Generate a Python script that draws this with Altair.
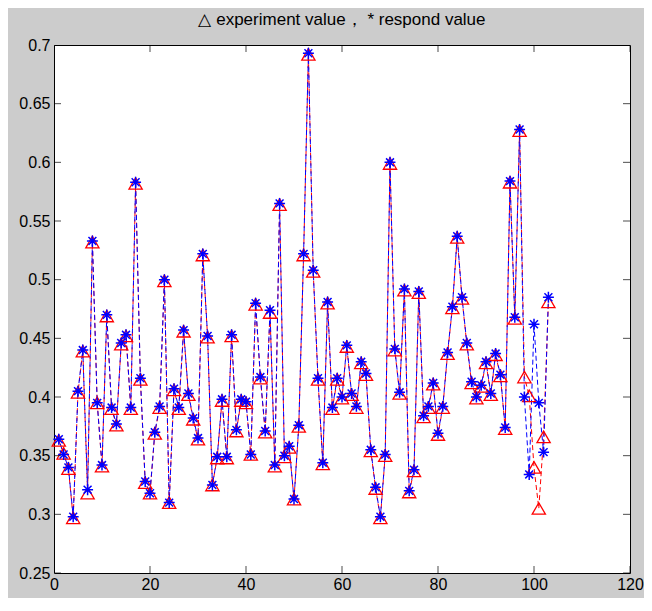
import altair as alt
import pandas as pd

FONT = "Liberation Sans Narrow, Arial Narrow, Liberation Sans, Arial"

idx = list(range(1, 104))
respond = [
    0.364, 0.351, 0.340, 0.298, 0.405, 0.440, 0.321, 0.533, 0.395, 0.342,
    0.470, 0.391, 0.377, 0.446, 0.453, 0.391, 0.583, 0.416, 0.328, 0.318,
    0.370, 0.392, 0.500, 0.310, 0.407, 0.391, 0.457, 0.403, 0.382, 0.365,
    0.522, 0.452, 0.325, 0.349, 0.398, 0.349, 0.453, 0.372, 0.398, 0.396,
    0.351, 0.480, 0.417, 0.371, 0.474, 0.342, 0.565, 0.350, 0.358, 0.313,
    0.376, 0.522, 0.693, 0.508, 0.416, 0.344, 0.481, 0.391, 0.416, 0.400,
    0.444, 0.403, 0.392, 0.430, 0.420, 0.355, 0.323, 0.298, 0.351, 0.600,
    0.441, 0.404, 0.492, 0.320, 0.338, 0.490, 0.384, 0.392, 0.412, 0.369,
    0.392, 0.438, 0.477, 0.537, 0.485, 0.446, 0.413, 0.400, 0.410, 0.430,
    0.403, 0.437, 0.419, 0.374, 0.584, 0.468, 0.628, 0.400, 0.334, 0.462,
    0.395, 0.353, 0.485,
]
experiment = [
    0.363, 0.352, 0.339, 0.297, 0.404, 0.439, 0.318, 0.532, 0.395, 0.341,
    0.469, 0.390, 0.376, 0.445, 0.452, 0.390, 0.582, 0.415, 0.327, 0.318,
    0.369, 0.391, 0.499, 0.310, 0.406, 0.390, 0.456, 0.402, 0.381, 0.364,
    0.521, 0.451, 0.325, 0.348, 0.397, 0.348, 0.452, 0.371, 0.397, 0.395,
    0.351, 0.479, 0.416, 0.370, 0.472, 0.341, 0.564, 0.349, 0.357, 0.313,
    0.375, 0.521, 0.692, 0.507, 0.415, 0.343, 0.480, 0.390, 0.415, 0.399,
    0.443, 0.402, 0.391, 0.429, 0.419, 0.354, 0.322, 0.297, 0.350, 0.599,
    0.440, 0.403, 0.491, 0.319, 0.337, 0.489, 0.383, 0.391, 0.411, 0.368,
    0.391, 0.437, 0.476, 0.536, 0.484, 0.445, 0.412, 0.399, 0.409, 0.429,
    0.402, 0.436, 0.418, 0.373, 0.583, 0.467, 0.627, 0.417, 0.401, 0.340,
    0.305, 0.366, 0.481,
]
x_ticks = [0, 20, 40, 60, 80, 100, 120]
y_ticks = [0.25, 0.3, 0.35, 0.4, 0.45, 0.5, 0.55, 0.6, 0.65, 0.7]
title_text = "\u25b3 experiment value\uff0c  * respond value"

df = pd.DataFrame({"n": idx, "experiment": experiment, "respond": respond})
xt = pd.DataFrame({"tx": x_ticks})
yt = pd.DataFrame({"ty": y_ticks})

PLOT_W = 576
PLOT_H = 528

xscale = alt.Scale(domain=[0, 120], nice=False, zero=False)
yscale = alt.Scale(domain=[0.25, 0.7], nice=False, zero=False)

x_axis = alt.Axis(values=x_ticks, ticks=False, domain=False, grid=False,
                  labelPadding=3, labelFontSize=16, labelFont=FONT,
                  labelColor="black", labelFlush=False, title=None)
y_axis = alt.Axis(values=y_ticks, ticks=False, domain=False, grid=False,
                  labelPadding=4, labelFontSize=16, labelFont=FONT,
                  labelColor="black", format=".2~f", labelFlush=False, title=None)

X = alt.X("n:Q", scale=xscale, axis=x_axis)
base = alt.Chart(df)

red_line = base.mark_line(color="#ff0000", strokeDash=[5, 3], strokeWidth=1).encode(
    x=X, y=alt.Y("experiment:Q", scale=yscale, axis=y_axis))
blue_line = base.mark_line(color="#0000ff", strokeDash=[5, 3], strokeDashOffset=3,
                           strokeWidth=1).encode(
    x=X, y=alt.Y("respond:Q", scale=yscale, axis=y_axis))
red_pts = base.mark_point(shape="triangle-up", size=175, filled=False,
                          color="#ff0000", strokeWidth=1.3, opacity=1).encode(
    x=X, y=alt.Y("experiment:Q", scale=yscale, axis=y_axis))
star = "M0,-1L0,1M-1,0L1,0M-0.72,-0.72L0.72,0.72M-0.72,0.72L0.72,-0.72"
blue_pts = base.mark_point(shape=star, size=120, filled=False,
                           color="#0000ff", strokeWidth=1.5, opacity=1).encode(
    x=X, y=alt.Y("respond:Q", scale=yscale, axis=y_axis))

xt_bottom = alt.Chart(xt).mark_tick(color="black", size=14, thickness=1, clip=True).encode(
    x=alt.X("tx:Q", scale=xscale, axis=x_axis), y=alt.value(PLOT_H))
xt_top = alt.Chart(xt).mark_tick(color="black", size=14, thickness=1, clip=True).encode(
    x=alt.X("tx:Q", scale=xscale, axis=x_axis), y=alt.value(0))
yt_left = alt.Chart(yt).mark_tick(color="black", size=14, thickness=1, clip=True).encode(
    y=alt.Y("ty:Q", scale=yscale, axis=y_axis), x=alt.value(0))
yt_right = alt.Chart(yt).mark_tick(color="black", size=14, thickness=1, clip=True).encode(
    y=alt.Y("ty:Q", scale=yscale, axis=y_axis), x=alt.value(PLOT_W))

chart = alt.layer(
    red_line, blue_line, red_pts, blue_pts, xt_bottom, xt_top, yt_left, yt_right
).properties(
    width=PLOT_W, height=PLOT_H,
    title=alt.TitleParams(title_text, font=FONT, fontSize=17, fontWeight="normal",
                          color="black", anchor="middle", offset=8),
    autosize=alt.AutoSizeParams(type="none"),
    padding={"left": 46, "top": 37, "right": 14, "bottom": 25},
    background="#cccccc",
).configure_view(
    fill="white", stroke="black", strokeWidth=1
)

chart.save("out.html", embed_options={"renderer": "svg", "actions": False})
